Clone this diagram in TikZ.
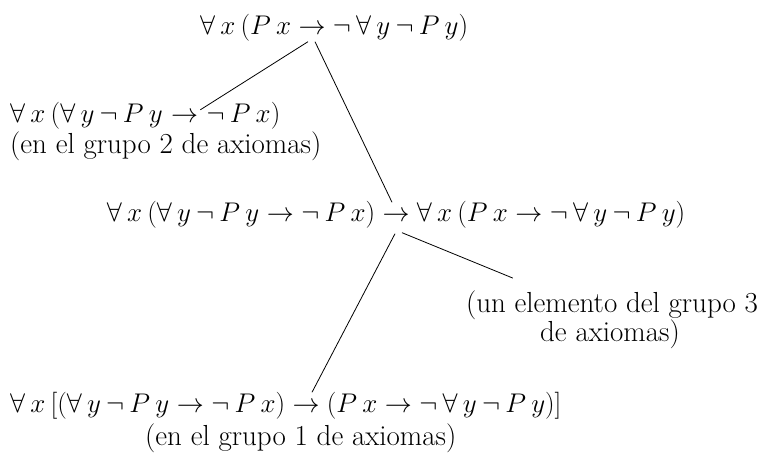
\RequirePackage{fix-cm}
\documentclass[tikz,border=0pt]{standalone}
\usepackage{fontspec}
\newcommand\gp{\mskip3.5mu}
\tikzset{
  fm/.style={inner sep=0pt, font=\fontsize{27}{32}\selectfont, text height=19.5pt, text depth=6.5pt},
  tx/.style={inner sep=0pt, font=\fontsize{29}{32}\selectfont\addfontfeatures{LetterSpace=3}},
  conn/.style={line width=0.8pt, black}
}
\begin{document}
\begin{tikzpicture}[x=1pt,y=-1pt]
\useasboundingbox (0,0) rectangle (773,454);
% top formula
\node[fm,anchor=base] (tA) at (312,35) {$\to$};
\node[fm,anchor=base east] (tL) at ([xshift=-7pt]tA.base west) {$\forall\gp x\gp(P\gp x$};
\node[fm,anchor=base west] (tR) at ([xshift=7pt]tA.base east) {$\neg\gp\forall\gp y\gp\neg\gp P\gp y)$};
% left formula
\node[fm,anchor=base west] (lL) at (10,123) {$\forall\gp x\gp(\forall\gp y\gp\neg\gp P\gp y$};
\node[fm,anchor=base west] (lA) at ([xshift=8pt]lL.base east) {$\to$};
\node[fm,anchor=base west] (lR) at ([xshift=8pt]lA.base east) {$\neg\gp P\gp x)$};
\node[tx,anchor=base west] (g2) at (10,154) {(en el grupo 2 de axiomas)};
% middle formula
\node[fm,anchor=base] (mA) at (396,222) {$\to$};
\node[fm,anchor=base east] (mL) at ([xshift=-7pt]mA.base west) {$\forall\gp x\gp(\forall\gp y\gp\neg\gp P\gp y\to\neg\gp P\gp x)$};
\node[fm,anchor=base west] (mR) at ([xshift=7pt]mA.base east) {$\forall\gp x\gp(P\gp x\to\neg\gp\forall\gp y\gp\neg\gp P\gp y)$};
\node[tx,anchor=base] (u1) at (612,312) {(un elemento del grupo 3};
\node[tx,anchor=base] (u2) at (610,341) {de axiomas)};
% bottom formula
\node[fm,anchor=base] (bA) at (306,412) {$\to$};
\node[fm,anchor=base east] (bL) at ([xshift=-7pt]bA.base west) {$\forall\gp x\gp[(\forall\gp y\gp\neg\gp P\gp y\to\neg\gp P\gp x)$};
\node[fm,anchor=base west] (bR) at ([xshift=7pt]bA.base east) {$(P\gp x\to\neg\gp\forall\gp y\gp\neg\gp P\gp y)]$};
\node[tx,anchor=base west] (g1) at (145,445) {(en el grupo 1 de axiomas)};
% connectors
\draw[conn] ([xshift=-4pt]tA.south) -- ([xshift=2pt,yshift=-6.5pt]lA.north east);
\draw[conn] ([xshift=3pt]tA.south) -- ([xshift=-4pt]mA.north);
\draw[conn] ([xshift=-1pt,yshift=-5pt]mA.south) -- ([xshift=6pt]bA.north);
\draw[conn] ([xshift=6pt,yshift=-4pt]mA.south) -- ([xshift=47pt,yshift=12pt]u1.north west);
\end{tikzpicture}
\end{document}
